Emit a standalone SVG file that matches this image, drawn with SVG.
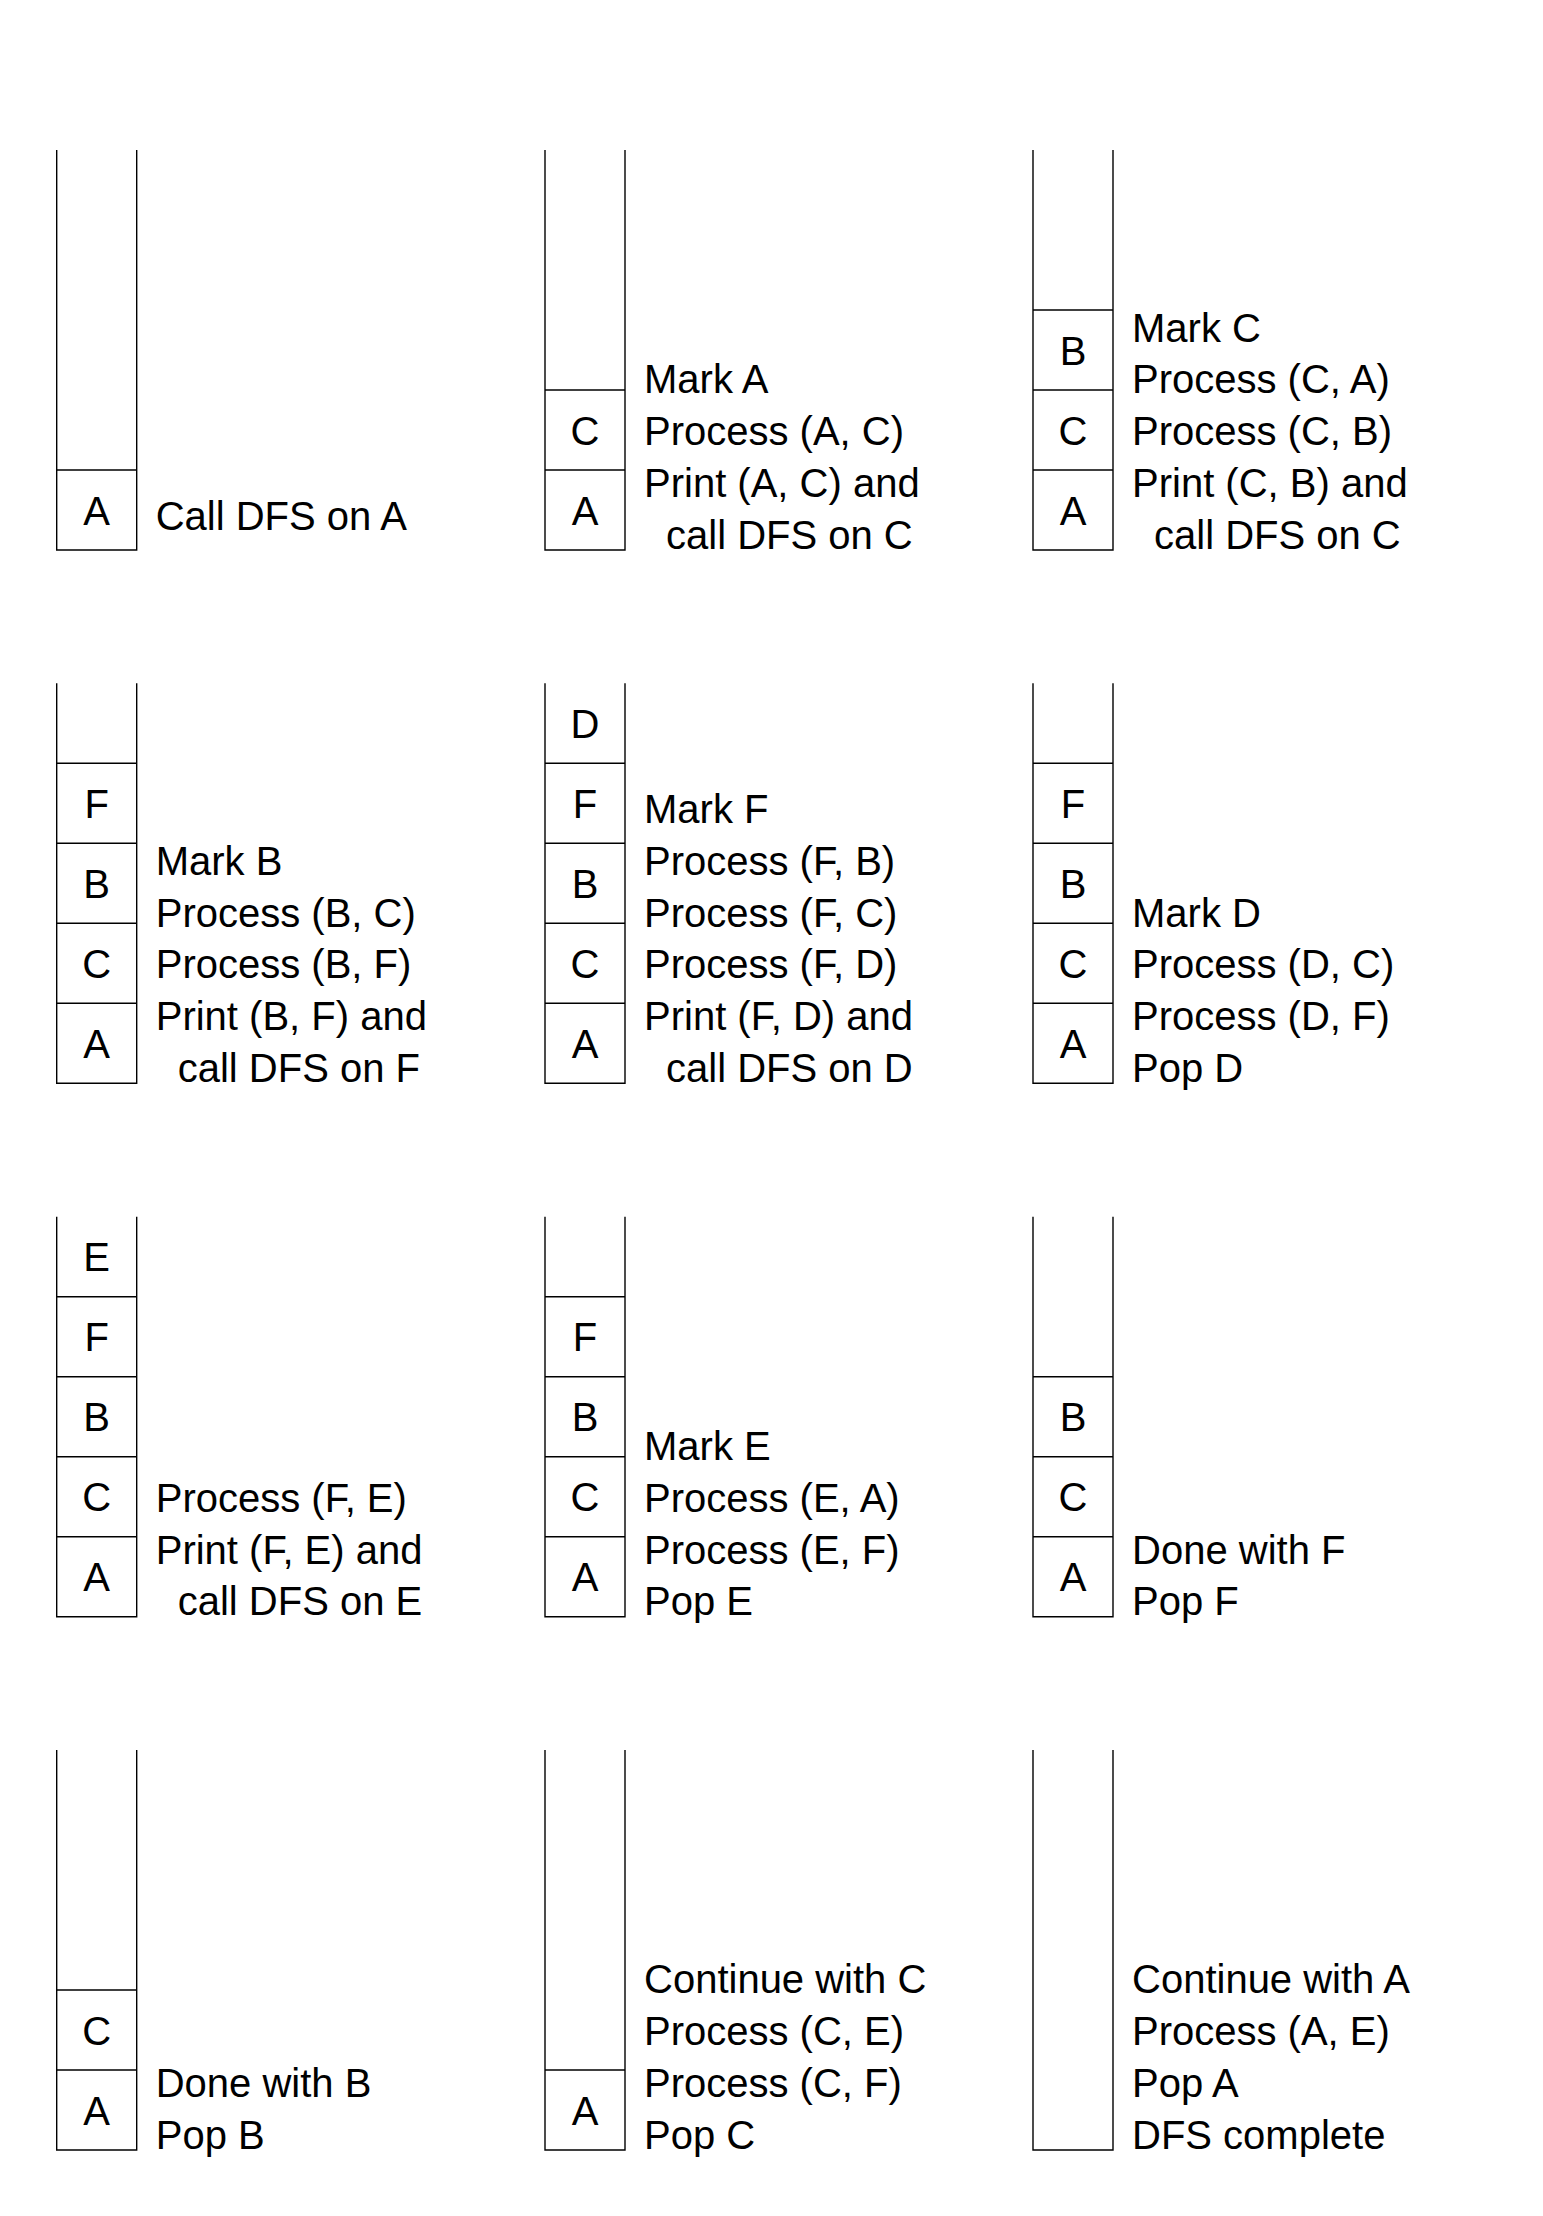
<svg xmlns="http://www.w3.org/2000/svg" width="1543" height="2216" viewBox="0 0 1543 2216">
<style>
.stack{fill:none;stroke:#000;stroke-width:1.4}
.div{stroke:#000;stroke-width:1.4}
text{font-family:"Liberation Sans",Arial,sans-serif;font-size:40px;fill:#000}
.cell{text-anchor:middle}
</style>
<defs>
<path id="frame" d="M0,-400 V0 H80 V-400"/>
</defs>
<rect width="1543" height="2216" fill="#fff"/>

<g id="step1" transform="translate(56.7,550)">
<use href="#frame" class="stack"/>
<line class="div" x1="0" x2="80" y1="-80" y2="-80"/>
<text class="cell" x="40" y="-25.5">A</text>
<text x="99" y="-20">Call DFS on A</text>
</g>

<g id="step2" transform="translate(545,550)">
<use href="#frame" class="stack"/>
<line class="div" x1="0" x2="80" y1="-80" y2="-80"/>
<line class="div" x1="0" x2="80" y1="-160" y2="-160"/>
<text class="cell" x="40" y="-25.5">A</text>
<text class="cell" x="40" y="-105.5">C</text>
<text x="99" y="-156.6">Mark A</text>
<text x="99" y="-104.9">Process (A, C)</text>
<text x="99" y="-53.2">Print (A, C) and</text>
<text x="121" y="-1.5">call DFS on C</text>
</g>

<g id="step3" transform="translate(1033,550)">
<use href="#frame" class="stack"/>
<line class="div" x1="0" x2="80" y1="-80" y2="-80"/>
<line class="div" x1="0" x2="80" y1="-160" y2="-160"/>
<line class="div" x1="0" x2="80" y1="-240" y2="-240"/>
<text class="cell" x="40" y="-25.5">A</text>
<text class="cell" x="40" y="-105.5">C</text>
<text class="cell" x="40" y="-185.5">B</text>
<text x="99" y="-208.3">Mark C</text>
<text x="99" y="-156.6">Process (C, A)</text>
<text x="99" y="-104.9">Process (C, B)</text>
<text x="99" y="-53.2">Print (C, B) and</text>
<text x="121" y="-1.5">call DFS on C</text>
</g>

<g id="step4" transform="translate(56.7,1083.3)">
<use href="#frame" class="stack"/>
<line class="div" x1="0" x2="80" y1="-80" y2="-80"/>
<line class="div" x1="0" x2="80" y1="-160" y2="-160"/>
<line class="div" x1="0" x2="80" y1="-240" y2="-240"/>
<line class="div" x1="0" x2="80" y1="-320" y2="-320"/>
<text class="cell" x="40" y="-25.5">A</text>
<text class="cell" x="40" y="-105.5">C</text>
<text class="cell" x="40" y="-185.5">B</text>
<text class="cell" x="40" y="-265.5">F</text>
<text x="99" y="-208.3">Mark B</text>
<text x="99" y="-156.6">Process (B, C)</text>
<text x="99" y="-104.9">Process (B, F)</text>
<text x="99" y="-53.2">Print (B, F) and</text>
<text x="121" y="-1.5">call DFS on F</text>
</g>

<g id="step5" transform="translate(545,1083.3)">
<use href="#frame" class="stack"/>
<line class="div" x1="0" x2="80" y1="-80" y2="-80"/>
<line class="div" x1="0" x2="80" y1="-160" y2="-160"/>
<line class="div" x1="0" x2="80" y1="-240" y2="-240"/>
<line class="div" x1="0" x2="80" y1="-320" y2="-320"/>
<text class="cell" x="40" y="-25.5">A</text>
<text class="cell" x="40" y="-105.5">C</text>
<text class="cell" x="40" y="-185.5">B</text>
<text class="cell" x="40" y="-265.5">F</text>
<text class="cell" x="40" y="-345.5">D</text>
<text x="99" y="-260">Mark F</text>
<text x="99" y="-208.3">Process (F, B)</text>
<text x="99" y="-156.6">Process (F, C)</text>
<text x="99" y="-104.9">Process (F, D)</text>
<text x="99" y="-53.2">Print (F, D) and</text>
<text x="121" y="-1.5">call DFS on D</text>
</g>

<g id="step6" transform="translate(1033,1083.3)">
<use href="#frame" class="stack"/>
<line class="div" x1="0" x2="80" y1="-80" y2="-80"/>
<line class="div" x1="0" x2="80" y1="-160" y2="-160"/>
<line class="div" x1="0" x2="80" y1="-240" y2="-240"/>
<line class="div" x1="0" x2="80" y1="-320" y2="-320"/>
<text class="cell" x="40" y="-25.5">A</text>
<text class="cell" x="40" y="-105.5">C</text>
<text class="cell" x="40" y="-185.5">B</text>
<text class="cell" x="40" y="-265.5">F</text>
<text x="99" y="-156.6">Mark D</text>
<text x="99" y="-104.9">Process (D, C)</text>
<text x="99" y="-53.2">Process (D, F)</text>
<text x="99" y="-1.5">Pop D</text>
</g>

<g id="step7" transform="translate(56.7,1616.7)">
<use href="#frame" class="stack"/>
<line class="div" x1="0" x2="80" y1="-80" y2="-80"/>
<line class="div" x1="0" x2="80" y1="-160" y2="-160"/>
<line class="div" x1="0" x2="80" y1="-240" y2="-240"/>
<line class="div" x1="0" x2="80" y1="-320" y2="-320"/>
<text class="cell" x="40" y="-25.5">A</text>
<text class="cell" x="40" y="-105.5">C</text>
<text class="cell" x="40" y="-185.5">B</text>
<text class="cell" x="40" y="-265.5">F</text>
<text class="cell" x="40" y="-345.5">E</text>
<text x="99" y="-104.9">Process (F, E)</text>
<text x="99" y="-53.2">Print (F, E) and</text>
<text x="121" y="-1.5">call DFS on E</text>
</g>

<g id="step8" transform="translate(545,1616.7)">
<use href="#frame" class="stack"/>
<line class="div" x1="0" x2="80" y1="-80" y2="-80"/>
<line class="div" x1="0" x2="80" y1="-160" y2="-160"/>
<line class="div" x1="0" x2="80" y1="-240" y2="-240"/>
<line class="div" x1="0" x2="80" y1="-320" y2="-320"/>
<text class="cell" x="40" y="-25.5">A</text>
<text class="cell" x="40" y="-105.5">C</text>
<text class="cell" x="40" y="-185.5">B</text>
<text class="cell" x="40" y="-265.5">F</text>
<text x="99" y="-156.6">Mark E</text>
<text x="99" y="-104.9">Process (E, A)</text>
<text x="99" y="-53.2">Process (E, F)</text>
<text x="99" y="-1.5">Pop E</text>
</g>

<g id="step9" transform="translate(1033,1616.7)">
<use href="#frame" class="stack"/>
<line class="div" x1="0" x2="80" y1="-80" y2="-80"/>
<line class="div" x1="0" x2="80" y1="-160" y2="-160"/>
<line class="div" x1="0" x2="80" y1="-240" y2="-240"/>
<text class="cell" x="40" y="-25.5">A</text>
<text class="cell" x="40" y="-105.5">C</text>
<text class="cell" x="40" y="-185.5">B</text>
<text x="99" y="-53.2">Done with F</text>
<text x="99" y="-1.5">Pop F</text>
</g>

<g id="step10" transform="translate(56.7,2150)">
<use href="#frame" class="stack"/>
<line class="div" x1="0" x2="80" y1="-80" y2="-80"/>
<line class="div" x1="0" x2="80" y1="-160" y2="-160"/>
<text class="cell" x="40" y="-25.5">A</text>
<text class="cell" x="40" y="-105.5">C</text>
<text x="99" y="-53.2">Done with B</text>
<text x="99" y="-1.5">Pop B</text>
</g>

<g id="step11" transform="translate(545,2150)">
<use href="#frame" class="stack"/>
<line class="div" x1="0" x2="80" y1="-80" y2="-80"/>
<text class="cell" x="40" y="-25.5">A</text>
<text x="99" y="-156.6">Continue with C</text>
<text x="99" y="-104.9">Process (C, E)</text>
<text x="99" y="-53.2">Process (C, F)</text>
<text x="99" y="-1.5">Pop C</text>
</g>

<g id="step12" transform="translate(1033,2150)">
<use href="#frame" class="stack"/>
<text x="99" y="-156.6">Continue with A</text>
<text x="99" y="-104.9">Process (A, E)</text>
<text x="99" y="-53.2">Pop A</text>
<text x="99" y="-1.5">DFS complete</text>
</g>
</svg>
